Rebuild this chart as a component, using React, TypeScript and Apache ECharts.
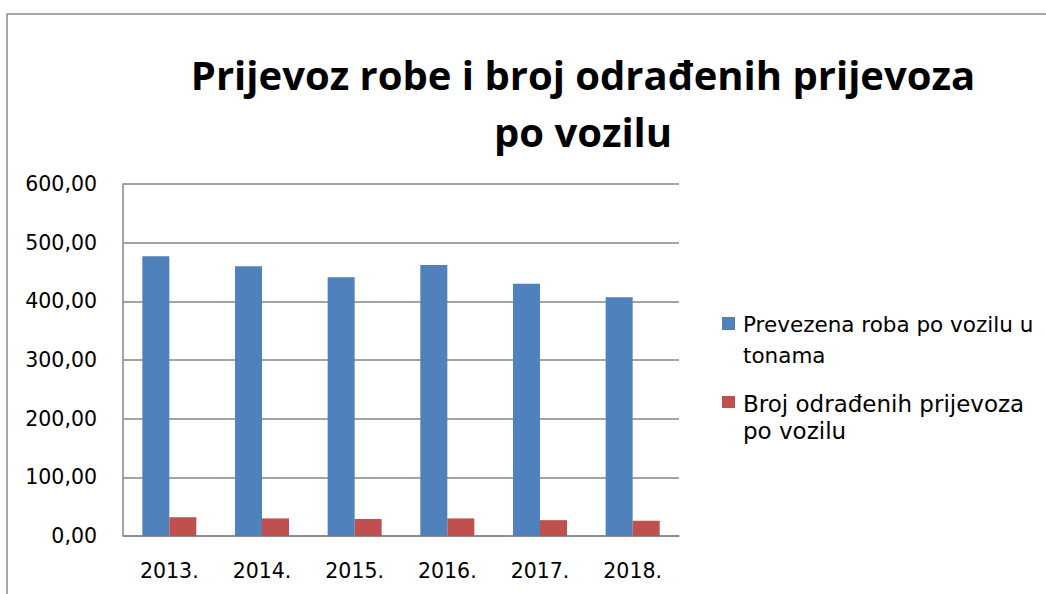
import React, { useEffect, useRef } from "react";
import * as echarts from "echarts";

const years = ["2013.", "2014.", "2015.", "2016.", "2017.", "2018."];
const goodsPerVehicle = [477, 460, 441, 462, 430, 407];
const tripsPerVehicle = [32, 30, 29, 30, 27, 26];
const seriesNames = [
  "Prevezena roba po vozilu u tonama",
  "Broj odrađenih prijevoza po vozilu",
];
const legendLines = [
  ["Prevezena roba po vozilu u", "tonama"],
  ["Broj odrađenih prijevoza", "po vozilu"],
];
const colors = ["#4F81BD", "#C0504D"];
const titleText = "Prijevoz robe i broj odrađenih prijevoza\npo vozilu";

export default function App() {
  const ref = useRef<HTMLDivElement>(null);
  useEffect(() => {
    document.body.style.margin = "0";
    const chart = echarts.init(ref.current!, undefined, { renderer: "svg" });
    const axisFont = "DejaVu Sans";
    chart.setOption({
      animation: false,
      backgroundColor: "#fff",
      title: {
        text: titleText,
        left: 578,
        top: 41,
        textAlign: "center",
        textStyle: {
          fontFamily: "Open Sans",
          fontWeight: "bold",
          fontSize: 40,
          lineHeight: 57,
          color: "#000",
        },
      },
      grid: { left: 123, right: 367, top: 184, bottom: 58, containLabel: false },
      xAxis: {
        type: "category",
        data: years,
        axisLine: { show: true, lineStyle: { color: "#868686", width: 1.5 } },
        axisTick: { show: false },
        axisLabel: { fontFamily: axisFont, fontSize: 20.5, color: "#000", margin: 24 },
      },
      yAxis: {
        type: "value",
        min: 0,
        max: 600,
        interval: 100,
        axisLine: { show: true, lineStyle: { color: "#868686", width: 1.5 } },
        axisTick: { show: false },
        splitLine: { show: true, lineStyle: { color: "#868686", width: 1.5 } },
        axisLabel: {
          fontFamily: axisFont,
          fontSize: 20.5,
          color: "#000",
          margin: 26,
          formatter: (v: number) => v.toFixed(2).replace(".", ","),
        },
      },
      series: [
        {
          name: seriesNames[0],
          type: "bar",
          data: goodsPerVehicle,
          barWidth: 27,
          barGap: "0%",
          itemStyle: { color: colors[0] },
        },
        {
          name: seriesNames[1],
          type: "bar",
          data: tripsPerVehicle,
          barWidth: 27,
          barGap: "0%",
          itemStyle: { color: colors[1] },
        },
      ],
      graphic: [
        {
          type: "rect",
          shape: { x: 7, y: 14, width: 1200, height: 800 },
          style: { fill: "none", stroke: "#8c8c8c", lineWidth: 1.5 },
          silent: true,
          z: -1,
        },
        { type: "rect", shape: { x: 722, y: 317, width: 13, height: 13 }, style: { fill: colors[0] } },
        {
          type: "text",
          x: 743,
          y: 324,
          style: { text: legendLines[0][0], font: "21.5px 'DejaVu Sans'", fill: "#000", verticalAlign: "middle" },
        },
        {
          type: "text",
          x: 743,
          y: 355,
          style: { text: legendLines[0][1], font: "21.5px 'DejaVu Sans'", fill: "#000", verticalAlign: "middle" },
        },
        { type: "rect", shape: { x: 722, y: 396, width: 13, height: 12 }, style: { fill: colors[1] } },
        {
          type: "text",
          x: 743,
          y: 404,
          style: { text: legendLines[1][0], font: "23px 'DejaVu Sans'", fill: "#000", verticalAlign: "middle" },
        },
        {
          type: "text",
          x: 743,
          y: 431,
          style: { text: legendLines[1][1], font: "23px 'DejaVu Sans'", fill: "#000", verticalAlign: "middle" },
        },
      ],
    });
    return () => chart.dispose();
  }, []);
  return <div ref={ref} style={{ width: 1046, height: 594 }} />;
}
